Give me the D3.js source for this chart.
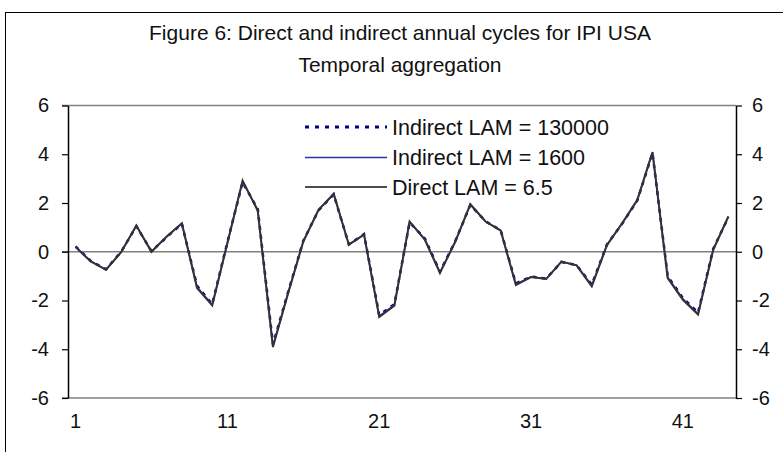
<!DOCTYPE html>
<html>
<head>
<meta charset="utf-8">
<script src="https://cdn.jsdelivr.net/npm/d3@7"></script>
<style>
  body { margin: 0; background: #fff; }
  svg { display: block; font-family: "Liberation Sans", Arial, sans-serif; }
</style>
</head>
<body>
<svg width="783" height="452"></svg>
<script>
// observation index 1..44
const periods = d3.range(1, 45);
const xTickLabels = [1, 11, 21, 31, 41];
const yTicks = [-6, -4, -2, 0, 2, 4, 6];

const direct = [0.19, -0.40, -0.74, -0.02, 1.08, 0.00, 0.63, 1.17, -1.49, -2.20,
    0.35, 2.92, 1.68, -3.91, -1.70, 0.42, 1.72, 2.38, 0.29, 0.70,
    -2.68, -2.21, 1.24, 0.50, -0.87, 0.40, 1.95, 1.24, 0.87, -1.37,
    -1.04, -1.12, -0.40, -0.56, -1.42, 0.27, 1.17, 2.13, 4.09, -1.08,
    -1.97, -2.58, 0.08, 1.45];
const indirect1600 = [0.21, -0.39, -0.73, -0.01, 1.06, 0.01, 0.61, 1.16, -1.44, -2.17,
    0.38, 2.88, 1.72, -3.85, -1.67, 0.44, 1.71, 2.36, 0.30, 0.71,
    -2.64, -2.18, 1.22, 0.52, -0.84, 0.41, 1.93, 1.25, 0.88, -1.33,
    -1.03, -1.11, -0.41, -0.55, -1.38, 0.29, 1.16, 2.11, 4.07, -1.04,
    -1.93, -2.54, 0.10, 1.43];
const indirect130000 = [0.22, -0.38, -0.72, 0.00, 1.05, 0.02, 0.60, 1.15, -1.40, -2.15,
    0.40, 2.85, 1.75, -3.80, -1.65, 0.45, 1.70, 2.35, 0.30, 0.72,
    -2.60, -2.15, 1.20, 0.55, -0.82, 0.42, 1.92, 1.25, 0.88, -1.30,
    -1.02, -1.10, -0.42, -0.55, -1.35, 0.30, 1.15, 2.10, 4.05, -1.00,
    -1.90, -2.50, 0.12, 1.42];

const seriesNames = ['Indirect LAM = 130000', 'Indirect LAM = 1600', 'Direct LAM = 6.5'];

var svg = d3.select('svg');

// outer chart frame (cut off at right and bottom)
svg.append('rect')
    .attr('x', 5.5).attr('y', 12.5)
    .attr('width', 800).attr('height', 460)
    .attr('fill', 'none')
    .attr('stroke', '#000')
    .attr('stroke-width', 1);

// title
svg.append('text')
    .attr('x', 400).attr('y', 40)
    .attr('text-anchor', 'middle')
    .attr('font-size', 21)
    .attr('fill', '#111')
    .text('Figure 6: Direct and indirect annual cycles for IPI USA');
svg.append('text')
    .attr('x', 400).attr('y', 72)
    .attr('text-anchor', 'middle')
    .attr('font-size', 21)
    .attr('fill', '#111')
    .text('Temporal aggregation');

// scales
var plotLeft = 68, plotRight = 736, plotTop = 105.5, plotBottom = 398;
var xScale = d3.scaleBand().domain(periods).range([plotLeft, plotRight]);
var yScale = d3.scaleLinear().domain([-6, 6]).range([plotBottom, plotTop]);
var xPos = function(i) { return xScale(periods[i]) + xScale.bandwidth() / 2; };

// horizontal lines at -6, 0, 6
[-6, 0, 6].forEach(function(v) {
    svg.append('line')
        .attr('x1', plotLeft - 6).attr('x2', plotRight)
        .attr('y1', yScale(v)).attr('y2', yScale(v))
        .attr('stroke', '#808080')
        .attr('stroke-width', 1.5);
});

// plain hyphen minus, like the original
var fmt = function(d) { return String(d); };

// left axis
var leftAxis = svg.append('g')
    .attr('transform', 'translate(' + plotLeft + ',0)')
    .call(d3.axisLeft(yScale).tickValues(yTicks).tickFormat(fmt)
        .tickSize(6).tickPadding(13).tickSizeOuter(0));
// right axis
var rightAxis = svg.append('g')
    .attr('transform', 'translate(' + plotRight + ',0)')
    .call(d3.axisRight(yScale).tickValues(yTicks).tickFormat(fmt)
        .tickSize(6).tickPadding(10).tickSizeOuter(0));

[leftAxis, rightAxis].forEach(function(ax) {
    ax.select('.domain').attr('stroke', '#000').attr('stroke-width', 1.5);
    ax.selectAll('.tick line').attr('stroke', '#000').attr('stroke-width', 1.2);
    ax.selectAll('.tick text')
        .attr('font-size', 20)
        .attr('fill', '#111')
        .attr('font-family', '"Liberation Sans", Arial, sans-serif');
});

// x labels
svg.append('g')
    .selectAll('text')
    .data(xTickLabels)
    .join('text')
    .attr('x', function(d) { return xPos(d - 1); })
    .attr('y', 428)
    .attr('text-anchor', 'middle')
    .attr('font-size', 20)
    .attr('fill', '#111')
    .text(function(d) { return d; });

// lines
var line = d3.line()
    .x(function(d, i) { return xPos(i); })
    .y(function(d) { return yScale(d); });

svg.append('path')
    .datum(indirect130000)
    .attr('fill', 'none')
    .attr('stroke', '#000080')
    .attr('stroke-width', 2.5)
    .attr('stroke-dasharray', '4,5')
    .attr('d', line);

svg.append('path')
    .datum(indirect1600)
    .attr('fill', 'none')
    .attr('stroke', '#3333a0')
    .attr('stroke-width', 1.5)
    .attr('d', line);

svg.append('path')
    .datum(direct)
    .attr('fill', 'none')
    .attr('stroke', '#333')
    .attr('stroke-width', 2)
    .attr('d', line);

// legend
var legendStyles = [
    { stroke: '#000080', width: 3, dash: '4,6' },
    { stroke: '#3333a0', width: 1.5, dash: null },
    { stroke: '#111', width: 1.5, dash: null }
];
var legendY = [127, 157.5, 187];
var legend = svg.append('g');
seriesNames.forEach(function(name, i) {
    legend.append('line')
        .attr('x1', 305).attr('x2', 387)
        .attr('y1', legendY[i]).attr('y2', legendY[i])
        .attr('stroke', legendStyles[i].stroke)
        .attr('stroke-width', legendStyles[i].width)
        .attr('stroke-dasharray', legendStyles[i].dash);
    legend.append('text')
        .attr('x', 392).attr('y', legendY[i] + 7.5)
        .attr('font-size', 21.5)
        .attr('fill', '#111')
        .text(name);
});
</script>
</body>
</html>
